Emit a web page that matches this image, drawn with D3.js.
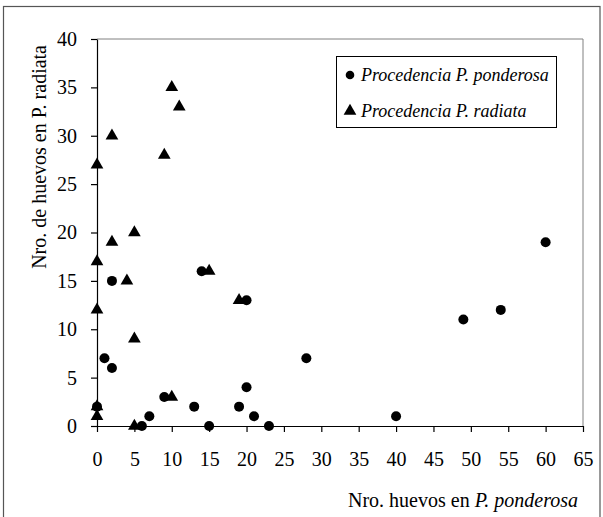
<!DOCTYPE html>
<html><head><meta charset="utf-8">
<script src="https://cdn.jsdelivr.net/npm/d3@7"></script>
<style>body{margin:0;background:#fff}svg{display:block}</style>
</head><body>
<svg id="c" width="603" height="517"></svg>
<script>
const ponderosaX = [0, 1, 2, 2, 6, 7, 9, 13, 14, 15, 19, 20, 20, 21, 23, 28, 40, 49, 54, 60];
const ponderosaY = [2, 7, 6, 15, 0, 1, 3, 2, 16, 0, 2, 13, 4, 1, 0, 7, 1, 11, 12, 19];
const radiataX = [0, 0, 0, 0, 0, 2, 2, 4, 5, 5, 5, 9, 10, 10, 11, 15, 19];
const radiataY = [27, 17, 12, 1, 2, 30, 19, 15, 20, 9, 0, 28, 35, 3, 33, 16, 13];
const xTicks = [0,5,10,15,20,25,30,35,40,45,50,55,60,65];
const yTicks = [0,5,10,15,20,25,30,35,40];
const seriesNames = ["Procedencia P. ponderosa", "Procedencia P. radiata"];

const svg = d3.select("#c");
const FF = "'Liberation Serif'";
const fs = "20px";
// outer frame
svg.append("rect").attr("x",3.5).attr("y",6.5).attr("width",596.5).attr("height",515)
  .attr("fill","none").attr("stroke","#555").attr("stroke-width",1.2);

const x = d3.scaleLinear().domain([0,65]).range([97,583]);
const y = d3.scaleLinear().domain([0,40]).range([426,39]);

// top/right plot borders
svg.append("path").attr("d",`M${x(0)},${y(40)}H${x(65)}V${y(0)}`).attr("fill","none").attr("stroke","#808080").attr("stroke-width",1);

const xa = svg.append("g").attr("transform",`translate(0,${y(0)})`)
  .call(d3.axisBottom(x).tickValues(xTicks).tickSize(6).tickSizeOuter(0).tickPadding(20));
const ya = svg.append("g").attr("transform",`translate(${x(0)},0)`)
  .call(d3.axisLeft(y).tickValues(yTicks).tickSize(6).tickSizeOuter(0).tickPadding(14));
[xa,ya].forEach(a=>{
  a.selectAll("path,line").attr("stroke","#000").attr("stroke-width",1.2);
  a.selectAll("text").style("font-family",FF).style("font-size",fs).attr("fill","#000");
});

const pData = ponderosaX.map((v,i)=>({x:v,y:ponderosaY[i]}));
const rData = radiataX.map((v,i)=>({x:v,y:radiataY[i]}));
const tri = d3.symbol().type(d3.symbolTriangle).size(70);

svg.append("g").selectAll("path").data(rData).join("path")
  .attr("d",tri).attr("transform",d=>`translate(${x(d.x)},${y(d.y)})`).attr("fill","#000");
svg.append("g").selectAll("circle").data(pData).join("circle")
  .attr("cx",d=>x(d.x)).attr("cy",d=>y(d.y)).attr("r",5).attr("fill","#000");

// axis titles
svg.append("text").attr("transform",`translate(46,45) rotate(-90)`).attr("text-anchor","end")
  .style("font-family",FF).style("font-size",fs).text("Nro. de huevos en P. radiata");
const xt = svg.append("text").attr("x",578).attr("y",507).attr("text-anchor","end")
  .style("font-family",FF).style("font-size",fs);
xt.append("tspan").text("Nro. huevos en ");
xt.append("tspan").style("font-style","italic").text("P. ponderosa");

// legend
const lg = svg.append("g");
lg.append("rect").attr("x",336.5).attr("y",56.5).attr("width",220).attr("height",71)
  .attr("fill","#fff").attr("stroke","#000").attr("stroke-width",1);
lg.append("circle").attr("cx",350).attr("cy",75).attr("r",4.3).attr("fill","#000");
lg.append("path").attr("d",tri).attr("transform","translate(350,111)").attr("fill","#000");
seriesNames.forEach((n,i)=>{
  lg.append("text").attr("x",361).attr("y",81+i*36).style("font-style","italic")
    .style("font-family",FF).style("font-size","18px").text(n);
});
</script>
</body></html>
